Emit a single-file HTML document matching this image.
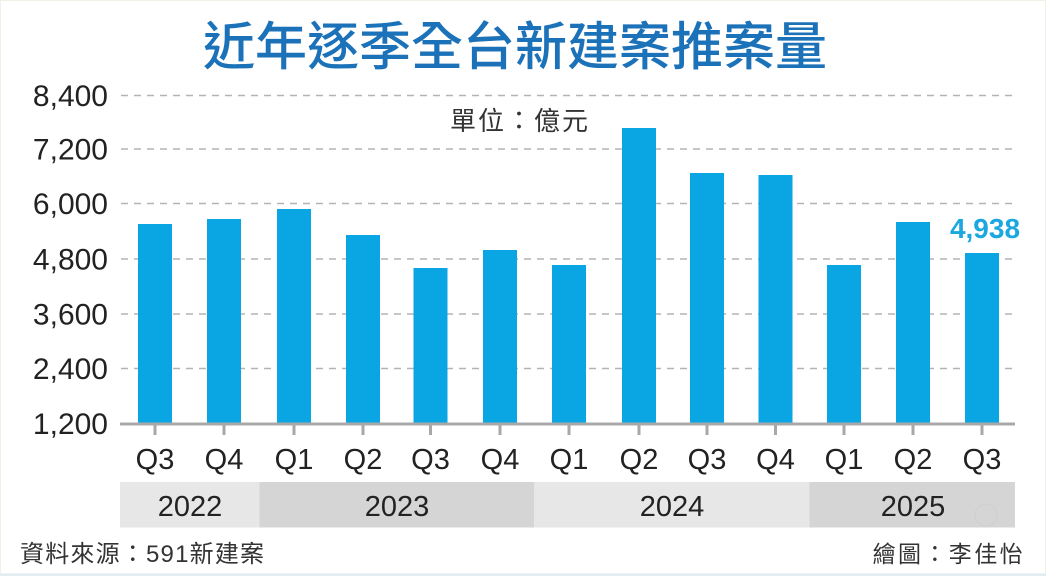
<!DOCTYPE html>
<html><head><meta charset="utf-8"><style>
html,body{margin:0;padding:0;background:#fff;}
svg{display:block;}
</style></head><body>
<svg width="1046" height="576" viewBox="0 0 1046 576" xmlns="http://www.w3.org/2000/svg">
<rect x="0" y="0" width="1046" height="576" fill="#fff"/>
<rect x="0.5" y="0.5" width="1045" height="575" fill="none" stroke="#eef3e6" stroke-width="1"/>
<line x1="0" y1="574.5" x2="1046" y2="574.5" stroke="#dceaf4" stroke-width="2"/>
<text x="515" y="65" text-anchor="middle" font-family="'Liberation Sans','Noto Sans CJK TC',sans-serif" font-size="52" font-weight="500" fill="#1c72b8">近年逐季全台新建案推案量</text>
<g stroke="#b4b4b4" stroke-width="1.6" stroke-dasharray="7,6">
<line x1="121" y1="95.5" x2="1015" y2="95.5"/>
<line x1="121" y1="149" x2="1015" y2="149"/>
<line x1="121" y1="203.5" x2="1015" y2="203.5"/>
<line x1="121" y1="259" x2="1015" y2="259"/>
<line x1="121" y1="314" x2="1015" y2="314"/>
<line x1="121" y1="368.5" x2="1015" y2="368.5"/>
</g>
<g font-family="'Liberation Sans',sans-serif" font-size="30" fill="#222" text-anchor="end">
<text x="108" y="106">8,400</text>
<text x="108" y="159.5">7,200</text>
<text x="108" y="214">6,000</text>
<text x="108" y="269.5">4,800</text>
<text x="108" y="324.5">3,600</text>
<text x="108" y="379">2,400</text>
<text x="108" y="434">1,200</text>
</g>
<text x="450" y="130" font-family="'Liberation Sans','Noto Sans CJK TC',sans-serif" font-size="26" letter-spacing="2" fill="#333">單位：億元</text>
<g fill="#0aa6e3">
<rect x="138" y="224" width="34" height="199"/>
<rect x="207" y="219" width="34" height="204"/>
<rect x="277" y="209" width="34" height="214"/>
<rect x="346" y="235" width="34" height="188"/>
<rect x="413.5" y="268" width="34" height="155"/>
<rect x="483" y="250" width="34" height="173"/>
<rect x="552" y="265" width="34" height="158"/>
<rect x="622" y="128" width="34" height="295"/>
<rect x="690" y="173" width="34" height="250"/>
<rect x="758.5" y="175" width="34" height="248"/>
<rect x="827" y="265" width="34" height="158"/>
<rect x="896" y="222" width="34" height="201"/>
<rect x="965" y="253" width="34" height="170"/>
</g>
<text x="985" y="238" text-anchor="middle" font-family="'Liberation Sans',sans-serif" font-size="28" font-weight="700" fill="#1ba7e0">4,938</text>
<line x1="120" y1="424" x2="1015" y2="424" stroke="#a8a8a8" stroke-width="3"/>
<g stroke="#a8a8a8" stroke-width="3">
<line x1="155" y1="424" x2="155" y2="435"/>
<line x1="224" y1="424" x2="224" y2="435"/>
<line x1="294" y1="424" x2="294" y2="435"/>
<line x1="363" y1="424" x2="363" y2="435"/>
<line x1="430.5" y1="424" x2="430.5" y2="435"/>
<line x1="500" y1="424" x2="500" y2="435"/>
<line x1="569" y1="424" x2="569" y2="435"/>
<line x1="639" y1="424" x2="639" y2="435"/>
<line x1="707" y1="424" x2="707" y2="435"/>
<line x1="775.5" y1="424" x2="775.5" y2="435"/>
<line x1="844" y1="424" x2="844" y2="435"/>
<line x1="913" y1="424" x2="913" y2="435"/>
<line x1="982" y1="424" x2="982" y2="435"/>
</g>
<g font-family="'Liberation Sans',sans-serif" font-size="29" fill="#222" text-anchor="middle">
<text x="155" y="469">Q3</text>
<text x="224" y="469">Q4</text>
<text x="294" y="469">Q1</text>
<text x="363" y="469">Q2</text>
<text x="430.5" y="469">Q3</text>
<text x="500" y="469">Q4</text>
<text x="569" y="469">Q1</text>
<text x="639" y="469">Q2</text>
<text x="707" y="469">Q3</text>
<text x="775.5" y="469">Q4</text>
<text x="844" y="469">Q1</text>
<text x="913" y="469">Q2</text>
<text x="982" y="469">Q3</text>
</g>
<rect x="120" y="482" width="139.5" height="45.5" fill="#e7e7e7"/>
<rect x="259.5" y="482" width="274.5" height="45.5" fill="#d5d5d5"/>
<rect x="534" y="482" width="275.5" height="45.5" fill="#e7e7e7"/>
<rect x="809.5" y="482" width="205.5" height="45.5" fill="#d5d5d5"/>
<circle cx="986" cy="515" r="11" fill="none" stroke="#cfcfcf" stroke-width="1"/>
<g font-family="'Liberation Sans',sans-serif" font-size="29" fill="#222" text-anchor="middle">
<text x="190" y="516">2022</text>
<text x="397" y="516">2023</text>
<text x="672" y="516">2024</text>
<text x="913" y="516">2025</text>
</g>
<text x="20" y="562" font-family="'Liberation Sans','Noto Sans CJK TC',sans-serif" font-size="24" letter-spacing="1.2" fill="#333">資料來源：591新建案</text>
<text x="1025" y="562" text-anchor="end" font-family="'Liberation Sans','Noto Sans CJK TC',sans-serif" font-size="23" letter-spacing="2.4" fill="#333">繪圖：李佳怡</text>
</svg>
</body></html>
